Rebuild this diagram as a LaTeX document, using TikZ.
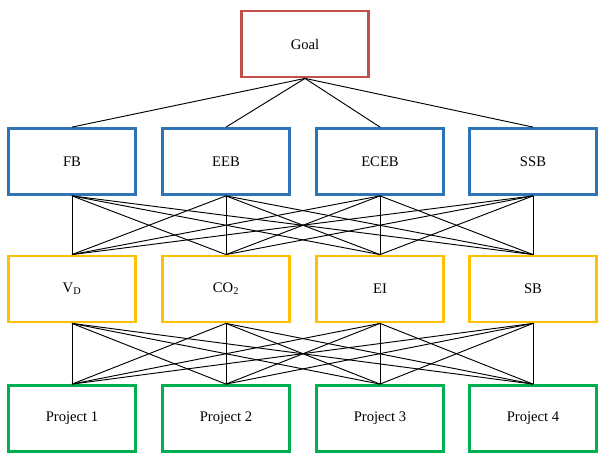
\documentclass[tikz,border=0pt]{standalone}
\usepackage{fontspec}
\setmainfont{Liberation Serif}
\definecolor{goalred}{HTML}{C0504D}
\definecolor{critblue}{HTML}{2E75B6}
\definecolor{subyellow}{HTML}{FFC000}
\definecolor{projgreen}{HTML}{00B050}
\begin{document}
\begin{tikzpicture}[thick,
  box/.style={draw,line width=2.4pt,minimum width=3.8cm,minimum height=1.98cm,
    font=\fontsize{12.5}{15}\selectfont,inner sep=0pt},
  link/.style={draw,line width=0.8pt}]
\useasboundingbox (0,0) rectangle (18.33,13.92);

\node[box,goalred] (goal) at (9.15,12.6) {\color{black}Goal};

\node[box,critblue] (c1) at (2.16,9.075) {\color{black}FB};
\node[box,critblue] (c2) at (6.78,9.075) {\color{black}EEB};
\node[box,critblue] (c3) at (11.40,9.075) {\color{black}ECEB};
\node[box,critblue] (c4) at (15.99,9.075) {\color{black}SSB};

\node[box,subyellow] (s1) at (2.16,5.25) {\color{black}V\textsubscript{D}};
\node[box,subyellow] (s2) at (6.78,5.25) {\color{black}CO\textsubscript{2}};
\node[box,subyellow] (s3) at (11.40,5.25) {\color{black}EI};
\node[box,subyellow] (s4) at (15.99,5.25) {\color{black}SB};

\node[box,projgreen] (p1) at (2.16,1.365) {\color{black}Project 1};
\node[box,projgreen] (p2) at (6.78,1.365) {\color{black}Project 2};
\node[box,projgreen] (p3) at (11.40,1.365) {\color{black}Project 3};
\node[box,projgreen] (p4) at (15.99,1.365) {\color{black}Project 4};

\foreach \i in {1,...,4} {
  \draw[link] (goal.south) -- (c\i.north);
  \foreach \j in {1,...,4} {
    \draw[link] (c\i.south) -- (s\j.north);
    \draw[link] (s\i.south) -- (p\j.north);
  }
}
\end{tikzpicture}
\end{document}
